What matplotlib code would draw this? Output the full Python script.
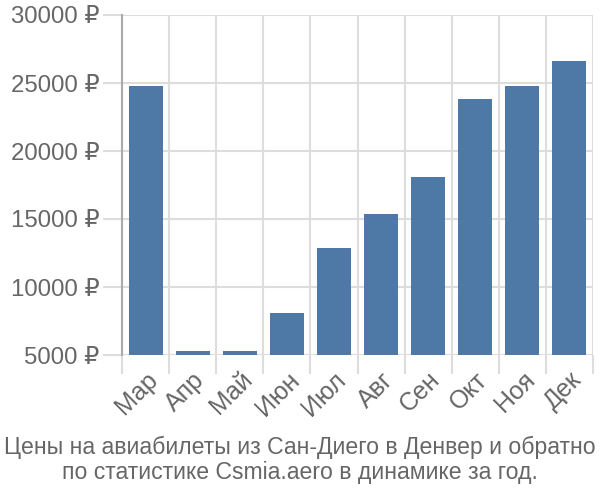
import matplotlib
matplotlib.use("Agg")
import matplotlib.pyplot as plt
import numpy as np

months = ["Мар", "Апр", "Май", "Июн", "Июл", "Авг", "Сен", "Окт", "Ноя", "Дек"]
prices = [24750, 5300, 5300, 8100, 12900, 15400, 18100, 23850, 24750, 26600]
yticks = [5000, 10000, 15000, 20000, 25000, 30000]
title = "Цены на авиабилеты из Сан-Диего в Денвер и обратно\nпо статистике Csmia.aero в динамике за год."

plt.rcParams['font.family'] = ['Liberation Sans', 'DejaVu Sans']
txt = '#666666'
grid = '#dddddd'

fig = plt.figure(figsize=(6, 5), dpi=100)
ax = fig.add_axes([122/600, 1-355/500, (593-122)/600, (355-15)/500])

x = np.arange(len(months))
ax.bar(x, prices, width=0.72, color='#4e79a7', zorder=3)

ax.set_xlim(-0.5, len(months)-0.5)
ax.set_ylim(5000, 30000)
ax.set_yticks(yticks)
ax.set_yticklabels([f"{v} ₽" for v in yticks])
ax.set_xticks(x)
ax.set_xticklabels(months, rotation=45, ha='right', rotation_mode='anchor')
ax.set_xticks(np.arange(len(months)+1)-0.5, minor=True)

ax.tick_params(axis='y', length=14, width=1.5, color=grid, labelsize=17.3, labelcolor=txt, pad=2)
ax.tick_params(axis='x', which='major', length=0, labelsize=18, labelcolor=txt, pad=9)
ax.tick_params(axis='x', which='minor', length=14, width=1.5, color=grid)

ax.grid(True, axis='y', color=grid, linewidth=1.5, zorder=0)
ax.grid(True, axis='x', which='minor', color=grid, linewidth=1.5, zorder=0)

for s in ['top', 'right', 'bottom']:
    ax.spines[s].set_visible(False)
ax.spines['left'].set_color('#aaaaaa')
ax.spines['left'].set_linewidth(1.5)
ax.spines['left'].set_bounds(5000, 30000)

fig.text(0.5, 1-460/500, title, ha='center', va='center', fontsize=16.6, color=txt, linespacing=1.15)

fig.savefig("out.png", dpi=100)
